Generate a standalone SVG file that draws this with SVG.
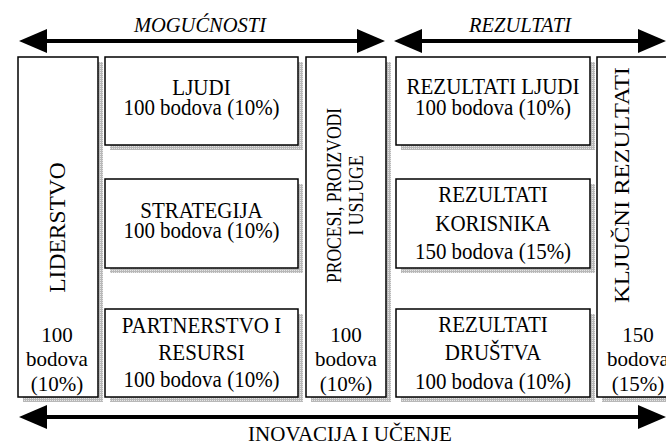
<svg xmlns="http://www.w3.org/2000/svg" width="666" height="441" viewBox="0 0 666 441">
<defs>
<pattern id="dots" width="2" height="2" patternUnits="userSpaceOnUse"><rect width="2" height="2" fill="#b8b8b8"/><rect width="1" height="1" fill="#e6e6e6"/></pattern>
<marker id="ah" viewBox="0 0 28 24" refX="8" refY="12" markerWidth="28" markerHeight="24" markerUnits="userSpaceOnUse" orient="auto-start-reverse"><path d="M0,0 L28,12 L0,24 z" fill="#000"/></marker>
</defs>
<style>
.box{fill:#fff;stroke:#000;stroke-width:1.5}
.sh{fill:url(#dots)}
.t{font-family:"Liberation Serif","Times New Roman",serif;font-size:21px;text-anchor:middle;fill:#000}
.it{font-style:italic;font-size:20.5px}
.arr{stroke:#000;stroke-width:4;fill:none;marker-start:url(#ah);marker-end:url(#ah)}
</style>
<rect width="666" height="441" fill="#fff"/>

<g id="connectors">
<line class="arr" x1="39" y1="41" x2="365" y2="41"/>
<line class="arr" x1="414" y1="41" x2="646" y2="41"/>
<line class="arr" x1="39" y1="417" x2="646" y2="417"/>
<text class="t it" x="200" y="32">MOGUĆNOSTI</text>
<text class="t it" x="520" y="32">REZULTATI</text>
<text class="t" x="350" y="441">INOVACIJA I UČENJE</text>
</g>

<g id="liderstvo">
<rect class="sh" x="23" y="62" width="80" height="340"/>
<rect class="box" x="18" y="57" width="80" height="340"/>
<text class="t" transform="translate(65,227.5) rotate(-90)" style="font-size:23.5px">LIDERSTVO</text>
<text class="t" x="57" y="342">100</text>
<text class="t" x="57" y="366">bodova</text>
<text class="t" x="57" y="391">(10%)</text>
</g>

<g id="ljudi">
<rect class="sh" x="110" y="62" width="193" height="88"/>
<rect class="box" x="105" y="57" width="193" height="88"/>
<text class="t" transform="translate(201.5,95) scale(1,1.12)">LJUDI</text>
<text class="t" transform="translate(201.5,115) scale(1,1.12)">100 bodova (10%)</text>
</g>

<g id="strategija">
<rect class="sh" x="110" y="184" width="193" height="89"/>
<rect class="box" x="105" y="179" width="193" height="89"/>
<text class="t" transform="translate(201.5,218) scale(1,1.12)">STRATEGIJA</text>
<text class="t" transform="translate(201.5,238) scale(1,1.12)">100 bodova (10%)</text>
</g>

<g id="partnerstvo">
<rect class="sh" x="110" y="314" width="193" height="88"/>
<rect class="box" x="105" y="309" width="193" height="88"/>
<text class="t" transform="translate(201.5,333) scale(1,1.12)">PARTNERSTVO I</text>
<text class="t" transform="translate(201.5,360) scale(1,1.12)">RESURSI</text>
<text class="t" transform="translate(201.5,387) scale(1,1.12)">100 bodova (10%)</text>
</g>

<g id="procesi">
<rect class="sh" x="311" y="62" width="80" height="340"/>
<rect class="box" x="306" y="57" width="80" height="340"/>
<text class="t" transform="translate(341,195.5) rotate(-90)" textLength="175" lengthAdjust="spacingAndGlyphs">PROCESI, PROIZVODI</text>
<text class="t" transform="translate(363,195.5) rotate(-90)" textLength="80" lengthAdjust="spacingAndGlyphs">I USLUGE</text>
<text class="t" x="346" y="342">100</text>
<text class="t" x="346" y="366">bodova</text>
<text class="t" x="346" y="391">(10%)</text>
</g>

<g id="rezultati-ljudi">
<rect class="sh" x="401" y="62" width="194" height="88"/>
<rect class="box" x="396" y="57" width="194" height="88"/>
<text class="t" transform="translate(493,94) scale(1,1.12)">REZULTATI LJUDI</text>
<text class="t" transform="translate(493,115) scale(1,1.12)">100 bodova (10%)</text>
</g>

<g id="rezultati-korisnika">
<rect class="sh" x="401" y="184" width="194" height="89"/>
<rect class="box" x="396" y="179" width="194" height="89"/>
<text class="t" transform="translate(493,202) scale(1,1.12)">REZULTATI</text>
<text class="t" transform="translate(493,231) scale(1,1.12)">KORISNIKA</text>
<text class="t" transform="translate(493,259) scale(1,1.12)">150 bodova (15%)</text>
</g>

<g id="rezultati-drustva">
<rect class="sh" x="401" y="314" width="194" height="88"/>
<rect class="box" x="396" y="309" width="194" height="88"/>
<text class="t" transform="translate(493,332) scale(1,1.12)">REZULTATI</text>
<text class="t" transform="translate(493,360) scale(1,1.12)">DRUŠTVA</text>
<text class="t" transform="translate(493,389) scale(1,1.12)">100 bodova (10%)</text>
</g>

<g id="kljucni-rezultati">
<rect class="sh" x="602" y="62" width="90" height="340"/>
<rect class="box" x="597" y="57" width="90" height="340"/>
<text class="t" transform="translate(629,185) rotate(-90)" textLength="236" lengthAdjust="spacingAndGlyphs">KLJUČNI REZULTATI</text>
<text class="t" x="638" y="342">150</text>
<text class="t" x="638" y="366">bodova</text>
<text class="t" x="638" y="391">(15%)</text>
</g>
</svg>
